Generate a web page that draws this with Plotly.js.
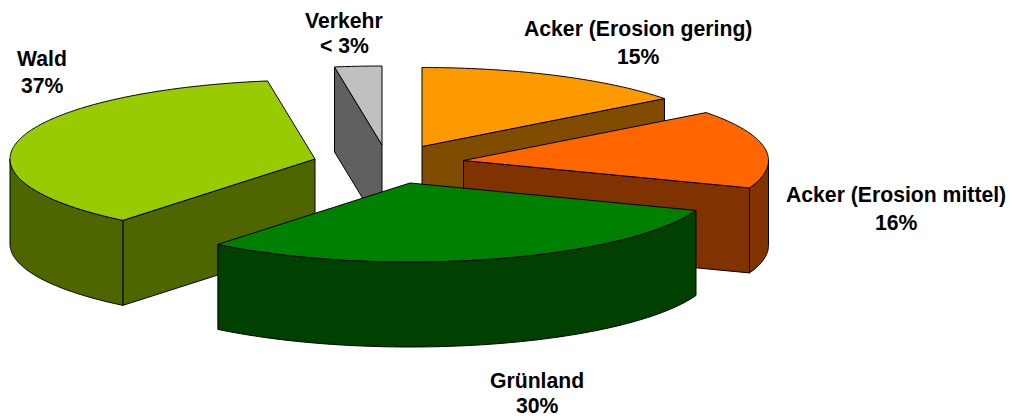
<!DOCTYPE html>
<html>
<head>
<meta charset="utf-8">
<script src="https://cdn.plot.ly/plotly-3.0.1.min.js"></script>
<style>html,body{margin:0;padding:0;background:#fff}#chart{width:1012px;height:416px}</style>
</head>
<body>
<div id="chart"></div>
<script>
// ---- data ----
const categories = ["Acker (Erosion gering)", "Acker (Erosion mittel)", "Grünland", "Wald", "Verkehr"];
const shares = [14.7, 16.1, 30.35, 36.85, 2.5];
const shareLabels = ["15%", "16%", "30%", "37%", "< 3%"];

// ---- styles ----
const topColors = ["#FF9900", "#FF6600", "#008000", "#99CC00", "#C0C0C0"];
const sideColors = ["#804D00", "#803300", "#004000", "#4D6600", "#606060"];

// ---- pie geometry (oblique projection of an exploded cylinder) ----
const pie = {cx: 385, cy: 163, rx: 305, ry: 79, depth: 85, rotation: 0};
const explode = [[37, -16.5], [78.5, -2.5], [25, 20], [-70, -4], [-3, -18]];
const drawOrder = [0, 4, 3, 1, 2];
const labelPos = [[638, 29, 56], [896, 195, 222], [537, 380, 405], [42, 58, 85], [344, 20, 45]];

const total = shares.reduce((a, b) => a + b, 0);
const rad = d => d * Math.PI / 180;

function polar(center, deg) {
  return [center[0] + pie.rx * Math.sin(rad(deg)), center[1] - pie.ry * Math.cos(rad(deg))];
}
function arc(center, a0, a1) {
  const n = Math.max(2, Math.ceil(Math.abs(a1 - a0) * 1.5));
  const pts = [];
  for (let i = 0; i <= n; i++) pts.push(polar(center, a0 + (a1 - a0) * i / n));
  return pts;
}
function poly(pts, color) {
  const closed = pts.concat([pts[0]]);
  return {
    type: "scatter", mode: "lines", fill: "toself", fillcolor: color,
    x: closed.map(p => p[0]), y: closed.map(p => p[1]),
    line: {color: "#000", width: 1, simplify: false},
    hoverinfo: "skip", showlegend: false
  };
}
function extrude(top) {
  const bottom = top.slice().reverse().map(p => [p[0], p[1] + pie.depth]);
  return top.concat(bottom);
}

// angular extent of each slice follows from the shares
let acc = pie.rotation;
const spans = shares.map(v => { const s = [acc, acc + v / total * 360]; acc = s[1]; return s; });

const traces = [];
drawOrder.forEach(i => {
  const [a0, a1] = spans[i];
  const c = [pie.cx + explode[i][0], pie.cy + explode[i][1]];
  // cut faces whose outward normal points toward the viewer
  if (Math.cos(rad(a0 - 90)) < -1e-6) traces.push(poly(extrude([c, polar(c, a0)]), sideColors[i]));
  if (Math.cos(rad(a1 + 90)) < -1e-6) traces.push(poly(extrude([c, polar(c, a1)]), sideColors[i]));
  // outer wall: the part of the rim on the viewer's side
  const w0 = Math.max(a0, 90), w1 = Math.min(a1, 270);
  if (w1 > w0) traces.push(poly(extrude(arc(c, w0, w1)), sideColors[i]));
  // top face
  traces.push(poly([c].concat(arc(c, a0, a1)), topColors[i]));
});

const font = {family: "Liberation Sans, Arial, sans-serif", size: 21.2, color: "#000"};
const annotations = [];
categories.forEach((name, i) => {
  const [x, y1, y2] = labelPos[i];
  [[name, y1], [shareLabels[i], y2]].forEach(([text, y]) => annotations.push({
    x, y, xref: "x", yref: "y", text: "<b>" + text + "</b>", showarrow: false,
    xanchor: "center", yanchor: "middle", font
  }));
});

Plotly.newPlot("chart", traces, {
  width: 1012, height: 416,
  margin: {l: 0, r: 0, t: 0, b: 0},
  paper_bgcolor: "#fff", plot_bgcolor: "#fff",
  showlegend: false, hovermode: false,
  xaxis: {range: [0, 1012], visible: false, fixedrange: true},
  yaxis: {range: [416, 0], visible: false, fixedrange: true},
  annotations
}, {staticPlot: true, displayModeBar: false});
</script>
</body>
</html>
